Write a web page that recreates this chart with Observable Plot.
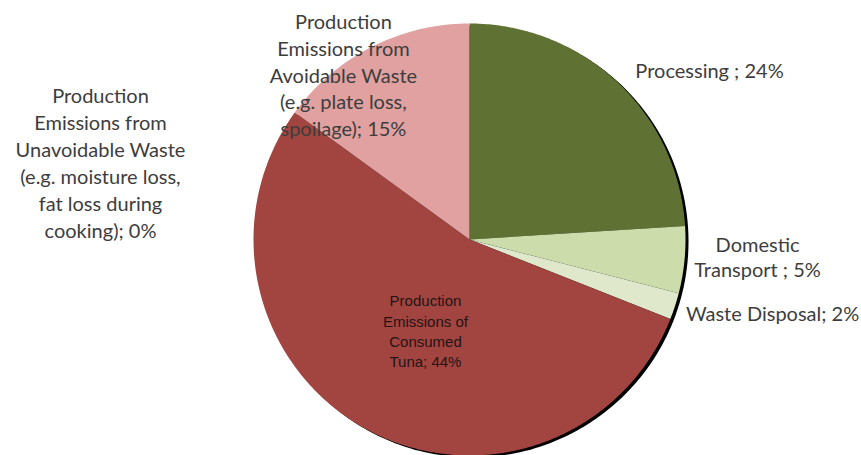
<!DOCTYPE html>
<html>
<head>
<meta charset="utf-8">
<script src="https://cdn.jsdelivr.net/npm/d3@7"></script>
<script src="https://cdn.jsdelivr.net/npm/@observablehq/plot@0.6"></script>
<style>
  html, body { margin: 0; padding: 0; background: #fff; }
</style>
</head>
<body>
<div id="chart"></div>
<script>
// ---- data ----
const categories = [
  "Processing",
  "Domestic Transport",
  "Waste Disposal",
  "Production Emissions of Consumed Tuna",
  "Production Emissions from Avoidable Waste",
  "Production Emissions from Unavoidable Waste"
];
// slice sizes as drawn (share of the circle, %)
const shares = [24, 5, 2, 54, 15, 0];
const labelTexts = [
  "Processing ; 24%",
  "Domestic\nTransport ; 5%",
  "Waste Disposal; 2%",
  "Production\nEmissions of\nConsumed\nTuna; 44%",
  "Production\nEmissions from\nAvoidable Waste\n(e.g. plate loss,\nspoilage); 15%",
  "Production\nEmissions from\nUnavoidable Waste\n(e.g. moisture loss,\nfat loss during\ncooking); 0%"
];
const colors = ["#5f7233", "#ccdcaa", "#dfe8cb", "#a24541", "#e0a1a0", "#e8c4c4"];

// ---- label styling (offsets from slice anchor point) ----
const labelStyle = [
  {r: 1.0, dx: 18, dy: -12, anchor: "start", font: "outer", lh: 1.3},
  {r: 1.0, dx: 73, dy: -3, anchor: "middle", font: "outer", lh: 1.25},
  {r: 1.0, dx: 11, dy: 6, anchor: "start", font: "outer", lh: 1.3},
  {r: 0.5, dx: 8, dy: -4, anchor: "middle", font: "inner", lh: 1.35},
  {r: 1.0, dx: -28, dy: 27, anchor: "middle", font: "outer", lh: 1.33},
  {r: 1.0, dx: -369, dy: 138, anchor: "middle", font: "outer", lh: 1.35}
];

// ---- pie geometry via d3.pie ----
const pie = d3.pie().sort(null).value(d => d)(shares);
const slicePts = [];
pie.forEach((p, i) => {
  if (p.endAngle - p.startAngle <= 0) return;
  slicePts.push({name: categories[i], x: 0, y: 0});
  const n = Math.max(2, Math.ceil((p.endAngle - p.startAngle) / 0.01));
  for (let k = 0; k <= n; k++) {
    const a = p.startAngle + (p.endAngle - p.startAngle) * k / n;
    slicePts.push({name: categories[i], x: Math.sin(a), y: Math.cos(a)});
  }
});
const circlePts = d3.range(0, 361).map(d => {
  const a = d * Math.PI / 180;
  return {x: Math.sin(a), y: Math.cos(a)};
});

const labels = pie.map((p, i) => {
  const mid = (p.startAngle + p.endAngle) / 2;
  const s = labelStyle[i];
  return {
    text: labelTexts[i],
    x: s.r * Math.sin(mid),
    y: s.r * Math.cos(mid),
    ...s
  };
});
const outer = labels.filter(d => d.font === "outer");
const inner = labels.filter(d => d.font === "inner");

const textMarks = outer.map(d => Plot.text([d], {
  x: "x", y: "y", text: "text", dx: d.dx, dy: d.dy,
  textAnchor: d.anchor, lineHeight: d.lh,
  fontFamily: "Lato", fontSize: 20, fill: "#3d3d3d"
})).concat(inner.map(d => Plot.text([d], {
  x: "x", y: "y", text: "text", dx: d.dx, dy: d.dy,
  textAnchor: d.anchor, lineHeight: d.lh,
  fontFamily: "Liberation Sans, Arial, sans-serif", fontSize: 15, fill: "#241414"
})));

const chart = Plot.plot({
  width: 861,
  height: 455,
  marginLeft: 253,
  marginRight: 176,
  marginTop: 23,
  marginBottom: 0,
  x: {domain: [-1, 1], axis: null},
  y: {domain: [-1, 1], axis: null},
  color: {domain: categories, range: colors},
  style: {background: "#fff"},
  marks: [
    Plot.line(circlePts, {x: "x", y: "y", curve: "linear-closed", fill: "#000", stroke: "none", dx: 3, dy: 2}),
    Plot.line(slicePts, {x: "x", y: "y", z: "name", fill: "name", stroke: "none", curve: "linear-closed"}),
    ...textMarks
  ]
});
document.getElementById("chart").append(chart);
</script>
</body>
</html>
